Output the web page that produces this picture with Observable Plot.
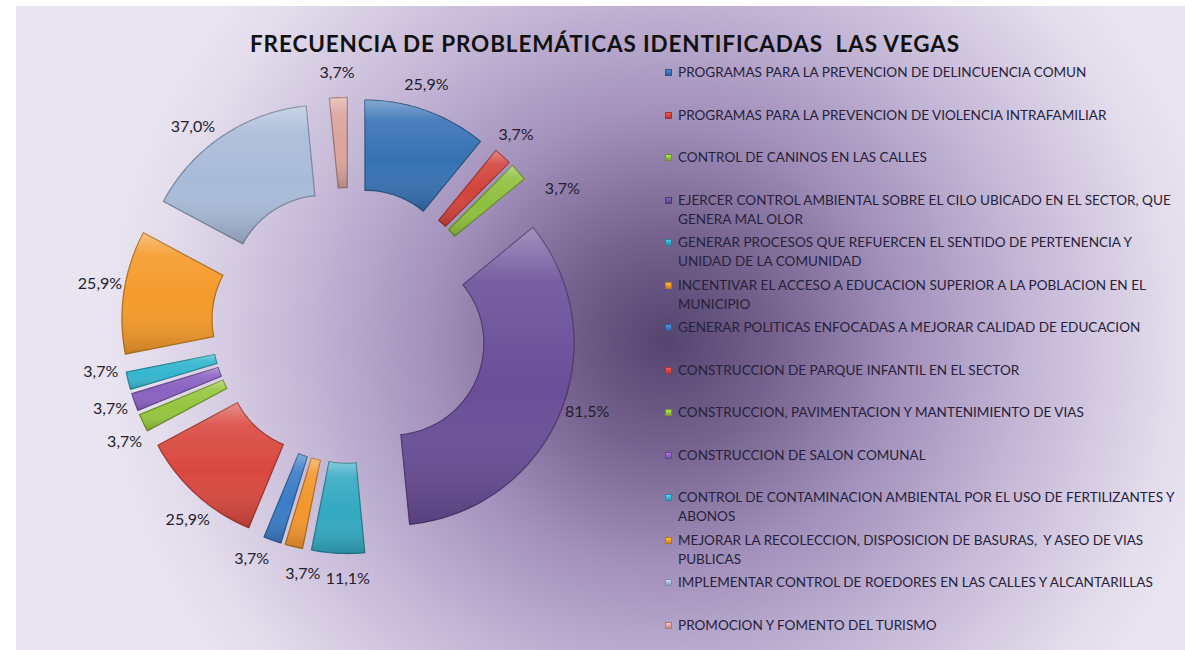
<!DOCTYPE html>
<html>
<head>
<meta charset="utf-8">
<script src="https://cdn.jsdelivr.net/npm/d3@7"></script>
<script src="https://cdn.jsdelivr.net/npm/@observablehq/plot@0.6"></script>
<style>
  html, body { margin: 0; padding: 0; background: #ffffff; }
  #wrap { position: relative; width: 1185px; height: 650px; overflow: hidden; background: #ffffff; }
  #bg { position: absolute; left: 16px; top: 6px; right: 0; bottom: 0;
        background: radial-gradient(ellipse 560px 540px at 650px 335px, #54446f 0%, #76638f 20%, #a291bc 42%, #c5b8d7 66%, #e2dbeb 90%, #e9e4f0 100%); }
  #chart { position: absolute; left: 0; top: 0; }
  #title { position: absolute; left: 605px; top: 33px; transform: translateX(-50%);
           font-family: Lato, "Open Sans", sans-serif; font-weight: 700; font-size: 22.5px; line-height: 22px;
           color: #111111; white-space: pre; }
  .lg { position: absolute; left: 678px; font-family: Lato, "Open Sans", sans-serif; font-size: 14px;
        line-height: 19px; color: #26223a; white-space: pre; }
  .sw { position: absolute; left: 665px; width: 7px; height: 7px; box-sizing: border-box; }
</style>
</head>
<body>
<div id="wrap">
  <div id="bg"></div>
  <div id="chart"></div>
  <div id="title"></div>
  <div id="legend"></div>
</div>
<script>
// ---- data ----
const title = "FRECUENCIA DE PROBLEMÁTICAS IDENTIFICADAS  LAS VEGAS";
const categories = [
  "PROGRAMAS PARA LA PREVENCION DE DELINCUENCIA COMUN",
  "PROGRAMAS PARA LA PREVENCION DE VIOLENCIA INTRAFAMILIAR",
  "CONTROL DE CANINOS EN LAS CALLES",
  "EJERCER CONTROL AMBIENTAL SOBRE EL CILO UBICADO EN EL SECTOR, QUE\nGENERA MAL OLOR",
  "GENERAR PROCESOS QUE REFUERCEN EL SENTIDO DE PERTENENCIA Y\nUNIDAD DE LA COMUNIDAD",
  "INCENTIVAR EL ACCESO A EDUCACION SUPERIOR A LA POBLACION EN EL\nMUNICIPIO",
  "GENERAR POLITICAS ENFOCADAS A MEJORAR CALIDAD DE EDUCACION",
  "CONSTRUCCION DE PARQUE INFANTIL EN EL SECTOR",
  "CONSTRUCCION, PAVIMENTACION Y MANTENIMIENTO DE VIAS",
  "CONSTRUCCION DE SALON COMUNAL",
  "CONTROL DE CONTAMINACION AMBIENTAL POR EL USO DE FERTILIZANTES Y\nABONOS",
  "MEJORAR LA RECOLECCION, DISPOSICION DE BASURAS,  Y ASEO DE VIAS\nPUBLICAS",
  "IMPLEMENTAR CONTROL DE ROEDORES EN LAS CALLES Y ALCANTARILLAS",
  "PROMOCION Y FOMENTO DEL TURISMO"
];
const values = [25.9, 3.7, 3.7, 81.5, 11.1, 3.7, 3.7, 25.9, 3.7, 3.7, 3.7, 25.9, 37.0, 3.7];
const colors = ["#3672b4", "#d2433b", "#8fbf3e", "#6a4e98", "#33a9c2", "#f3962c",
                "#3a7cc6", "#d9483f", "#96c63e", "#8a62c2", "#34b6cf", "#f59a2a", "#a9bbd9", "#dba49c"];

// ---- layout settings (not data) ----
const R_OUT = 1, R_IN = 0.505, EXPLODE = 0.253, LABEL_R = 1.39;
// manual nudges of the data labels along the ring (degrees), as in the original chart
const labelShift = [-2, -1, 9.5, -2.5, -2.5, -3.5, 3, -2.5, -2, 0.5, 3.5, 1, -4.5, 0];
const W = 1185, H = 650, CX = 349, CY = 325, PX = 182;

const total = d3.sum(values);
let acc = 0;
const slices = values.map((v, i) => {
  const a0 = acc / total * 2 * Math.PI; acc += v;
  const a1 = acc / total * 2 * Math.PI;
  const mid = (a0 + a1) / 2;
  return {i, v, a0, a1, mid, color: colors[i], name: categories[i]};
});

const pts = [];
for (const s of slices) {
  const ox = EXPLODE * Math.sin(s.mid), oy = EXPLODE * Math.cos(s.mid);
  const n = Math.max(3, Math.ceil((s.a1 - s.a0) / (2 * Math.PI) * 240));
  const ring = [];
  for (let k = 0; k <= n; k++) { const t = s.a0 + (s.a1 - s.a0) * k / n; ring.push([ox + R_OUT * Math.sin(t), oy + R_OUT * Math.cos(t)]); }
  for (let k = n; k >= 0; k--) { const t = s.a0 + (s.a1 - s.a0) * k / n; ring.push([ox + R_IN * Math.sin(t), oy + R_IN * Math.cos(t)]); }
  ring.push(ring[0]);
  for (const [x, y] of ring) pts.push({id: s.i, x, y, color: s.color, edge: d3.color(s.color).darker(0.9).formatHex()});
}

const labels = slices.map(s => {
  const a = s.mid + labelShift[s.i] * Math.PI / 180;
  return {x: LABEL_R * Math.sin(a), y: LABEL_R * Math.cos(a), text: s.v.toFixed(1).replace(".", ",") + "%"};
});

const plot = Plot.plot({
  width: W, height: H, margin: 0,
  x: {domain: [-CX / PX, (W - CX) / PX], range: [0, W], axis: null},
  y: {domain: [-(H - CY) / PX, CY / PX], range: [H, 0], axis: null},
  color: {type: "identity"},
  style: {background: "transparent", overflow: "visible"},
  marks: [
    Plot.line(pts, {x: "x", y: "y", z: "id", fill: "color", stroke: "edge", strokeWidth: 1.3, strokeLinejoin: "round", curve: "linear"}),
    Plot.line(pts, {x: "x", y: "y", z: "id", fill: "url(#shine)", stroke: null, curve: "linear"}),
    Plot.text(labels, {x: "x", y: "y", text: "text", fontSize: 16, fill: "#22202e", fontFamily: "Lato, 'Open Sans', sans-serif"})
  ]
});

d3.select(plot).insert("defs", ":first-child").html(`
  <linearGradient id="shine" x1="0" y1="0" x2="0" y2="1">
    <stop offset="0" stop-color="#ffffff" stop-opacity="0.38"/>
    <stop offset="0.18" stop-color="#ffffff" stop-opacity="0.10"/>
    <stop offset="0.55" stop-color="#ffffff" stop-opacity="0"/>
    <stop offset="1" stop-color="#000000" stop-opacity="0.18"/>
  </linearGradient>`);

document.getElementById("chart").appendChild(plot);
const titleEl = document.getElementById("title");
titleEl.textContent = title;
// fit title to its width in the original (about 710 px)
{
  const w = titleEl.getBoundingClientRect().width;
  titleEl.style.letterSpacing = ((710 - w) / title.length) + "px";
}

// ---- legend ----
const legend = document.getElementById("legend");
const ROW0 = 72.7, STEP = 42.5;
const texts = [];
categories.forEach((c, i) => {
  const yc = ROW0 + STEP * i;
  const sw = document.createElement("div");
  sw.className = "sw";
  sw.style.top = (yc - 3.5) + "px";
  const col = d3.color(colors[i]);
  sw.style.background = `linear-gradient(${col.brighter(0.6)}, ${colors[i]} 55%, ${col.darker(0.5)})`;
  sw.style.border = `1px solid ${col.darker(0.8)}`;
  legend.appendChild(sw);
  const t = document.createElement("div");
  t.className = "lg";
  t.style.top = (yc - 9.5) + "px";
  t.textContent = c;
  legend.appendChild(t);
  texts.push(t);
});
// fit the longest legend line to end near the right edge, as in the original
{
  const maxW = d3.max(texts, t => t.getBoundingClientRect().width);
  const fs = Math.min(14.5, 14 * 497 / maxW);
  texts.forEach(t => t.style.fontSize = fs + "px");
}
</script>
</body>
</html>
